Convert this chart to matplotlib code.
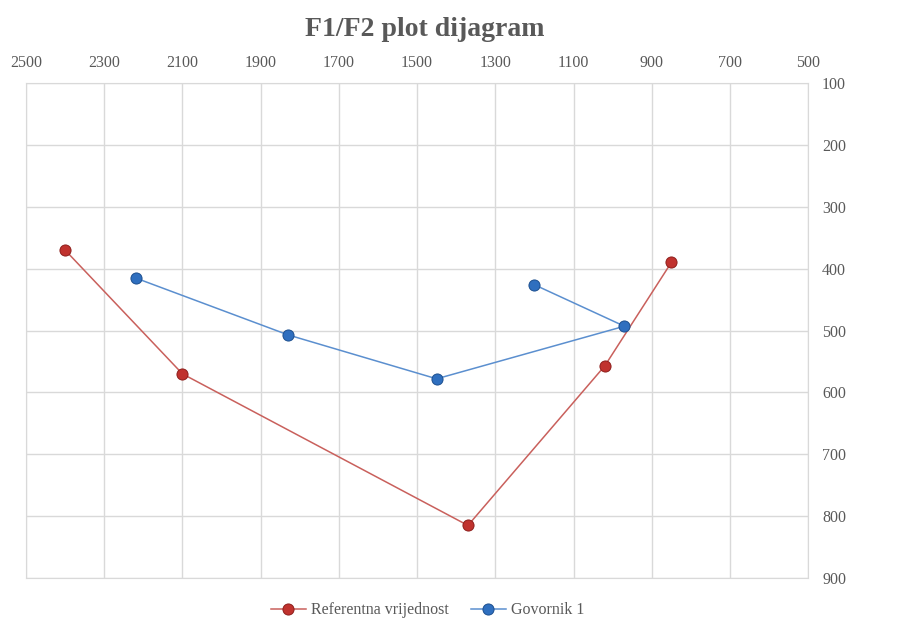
import matplotlib
matplotlib.use('Agg')
import matplotlib.pyplot as plt

plt.rcParams['font.family'] = ['Liberation Serif', 'DejaVu Serif']

# data: F2 (x), F1 (y)
ref_f2 = [2400, 2100, 1370, 1020, 850]
ref_f1 = [370, 570, 815, 557, 390]
gov_f2 = [2220, 1830, 1450, 970, 1200]
gov_f1 = [415, 507, 578, 493, 426]

x_ticks = [2500, 2300, 2100, 1900, 1700, 1500, 1300, 1100, 900, 700, 500]
y_ticks = [100, 200, 300, 400, 500, 600, 700, 800, 900]

GRID = '#d9d9d9'
TXT = '#595959'

fig = plt.figure(figsize=(8.97, 6.2), dpi=100)
ax = fig.add_axes([0.029, 0.0677, 0.872, 0.7983])

ax.plot(ref_f2, ref_f1, color='#c9605c', lw=1.1, marker='o', ms=8,
        mfc='#c0322e', mec='#8e1f1c', mew=0.7, label='Referentna vrijednost', zorder=3)
ax.plot(gov_f2, gov_f1, color='#5b8fcf', lw=1.1, marker='o', ms=8,
        mfc='#2f6fbf', mec='#1d4f8f', mew=0.7, label='Govornik 1', zorder=3)

ax.set_xlim(2500, 500)
ax.set_ylim(900, 100)
ax.set_xticks(x_ticks)
ax.set_yticks(y_ticks)
ax.xaxis.tick_top()
ax.yaxis.tick_right()
ax.tick_params(axis='both', length=0, labelsize=11.5, colors=TXT)
ax.tick_params(axis='x', pad=9)
ax.tick_params(axis='y', pad=10)
for lab in ax.get_yticklabels():
    lab.set_horizontalalignment('left')
ax.grid(True, color=GRID, lw=1)
for s in ax.spines.values():
    s.set_color(GRID)

fig.text(0.474, 0.953, 'F1/F2 plot dijagram', ha='center', va='center',
         fontsize=20, fontweight='bold', color=TXT)

ax.legend(loc='center', bbox_to_anchor=(0.513, -0.065), ncol=2, frameon=False,
          fontsize=11.5, labelcolor=TXT, handlelength=2.2, columnspacing=1.4,
          handletextpad=0.3)

plt.savefig('out.png', dpi=100, facecolor='white')
